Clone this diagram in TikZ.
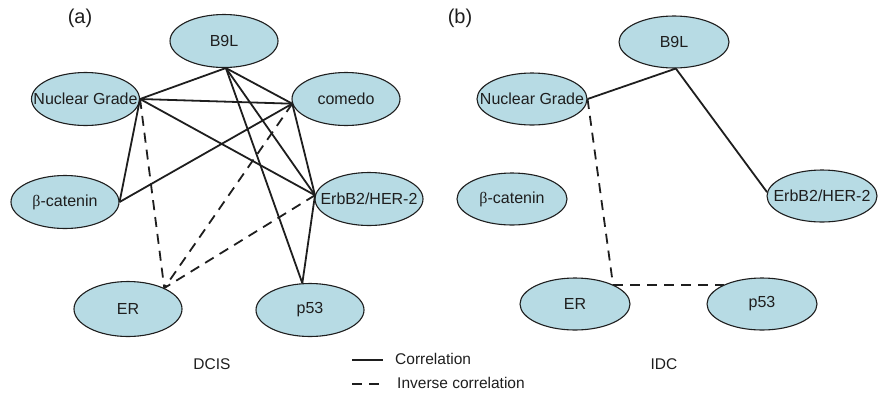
\documentclass[tikz,border=0pt]{standalone}
\usepackage{fontspec}
\setmainfont{Liberation Sans}
\newfontfamily\betafont{Liberation Serif}
\usetikzlibrary{shapes.geometric}
\definecolor{nodefill}{RGB}{183,219,228}
\definecolor{ink}{RGB}{30,30,30}
\newcommand{\gtext}[1]{\makebox[0pt][c]{#1}}
\begin{document}
\begin{tikzpicture}[x=1pt,y=-1pt,
  gene/.style={ellipse,draw=ink,line width=1.1pt,fill=nodefill,minimum width=108pt,minimum height=53pt,inner sep=0pt,font=\fontsize{16}{18}\selectfont,text=ink},
  geneb/.style={gene,minimum width=110pt,minimum height=52pt},
  corr/.style={draw=ink,line width=1.8pt},
  inv/.style={draw=ink,line width=1.8pt,dash pattern=on 10pt off 7pt},
  lab/.style={font=\fontsize{15.5}{17}\selectfont,text=ink,inner sep=0pt},
  panel/.style={font=\fontsize{20}{22}\selectfont,text=ink,inner sep=0pt}]
\useasboundingbox (0,0) rectangle (885,394);
% panel (a)
\node[panel] (ta) at (80,18) {(a)};
\node[gene] (aB) at (224,41) {\gtext{B9L}};
\node[gene] (aN) at (85.5,99) {\gtext{Nuclear Grade}};
\node[gene] (aC) at (346,99) {\gtext{comedo}};
\node[gene] (aK) at (65,202) {\gtext{{\betafont β}-catenin}};
\node[gene] (aE) at (369,199) {\gtext{ErbB2/HER-2}};
\node[gene,minimum height=55pt] (aR) at (128,309) {\gtext{ER}};
\node[gene] (aP) at (310,310) {\gtext{p53}};
\node[lab] (dcis) at (212,364) {DCIS};
\draw[corr] (aB.274) -- (aN.east);
\draw[corr] (aN.east) -- (aC.185);
\draw[corr] (aN.east) -- (aE.176);
\draw[corr] (aN.east) -- (aK.east);
\draw[corr] (aK.east) -- (aC.185);
\draw[corr] (aB.274) -- (aC.185);
\draw[corr] (aB.274) -- (aE.176);
\draw[corr] (aB.274) -- (aP.106);
\draw[corr] (aC.185) -- (aE.176);
\draw[corr] (aE.176) -- (aP.106);
\draw[inv] (aN.east) -- (aR.30);
\draw[inv] (aC.185) -- (aR.30);
\draw[inv] (aE.176) -- (aR.30);
% legend
\coordinate (l1a) at (352,360);
\coordinate (l1b) at (383,360);
\coordinate (l2a) at (352,384);
\coordinate (l2b) at (383,384);
\draw[corr] (l1a) -- (l1b);
\draw[inv] (l2a) -- (l2b);
\node[lab,anchor=west] (lc) at (395,359) {Correlation};
\node[lab,anchor=west] (li) at (397,383) {Inverse correlation};
% panel (b)
\node[panel] (tb) at (460,18) {(b)};
\node[geneb] (bB) at (674,42) {\gtext{B9L}};
\node[geneb] (bN) at (532,99) {\gtext{Nuclear Grade}};
\node[geneb] (bK) at (512,199) {\gtext{{\betafont β}-catenin}};
\node[geneb] (bE) at (822,196) {\gtext{ErbB2/HER-2}};
\node[geneb] (bR) at (575,304) {\gtext{ER}};
\node[geneb] (bP) at (762,304) {\gtext{p53}};
\node[lab] (idc) at (664,364) {IDC};
\draw[corr] (bB.274) -- (bN.east);
\draw[corr] (bB.274) -- (bE.176);
\draw[inv] (bN.east) -- (bR.27);
\draw[inv] (bR.27) -- (bP.153);
\end{tikzpicture}
\end{document}
